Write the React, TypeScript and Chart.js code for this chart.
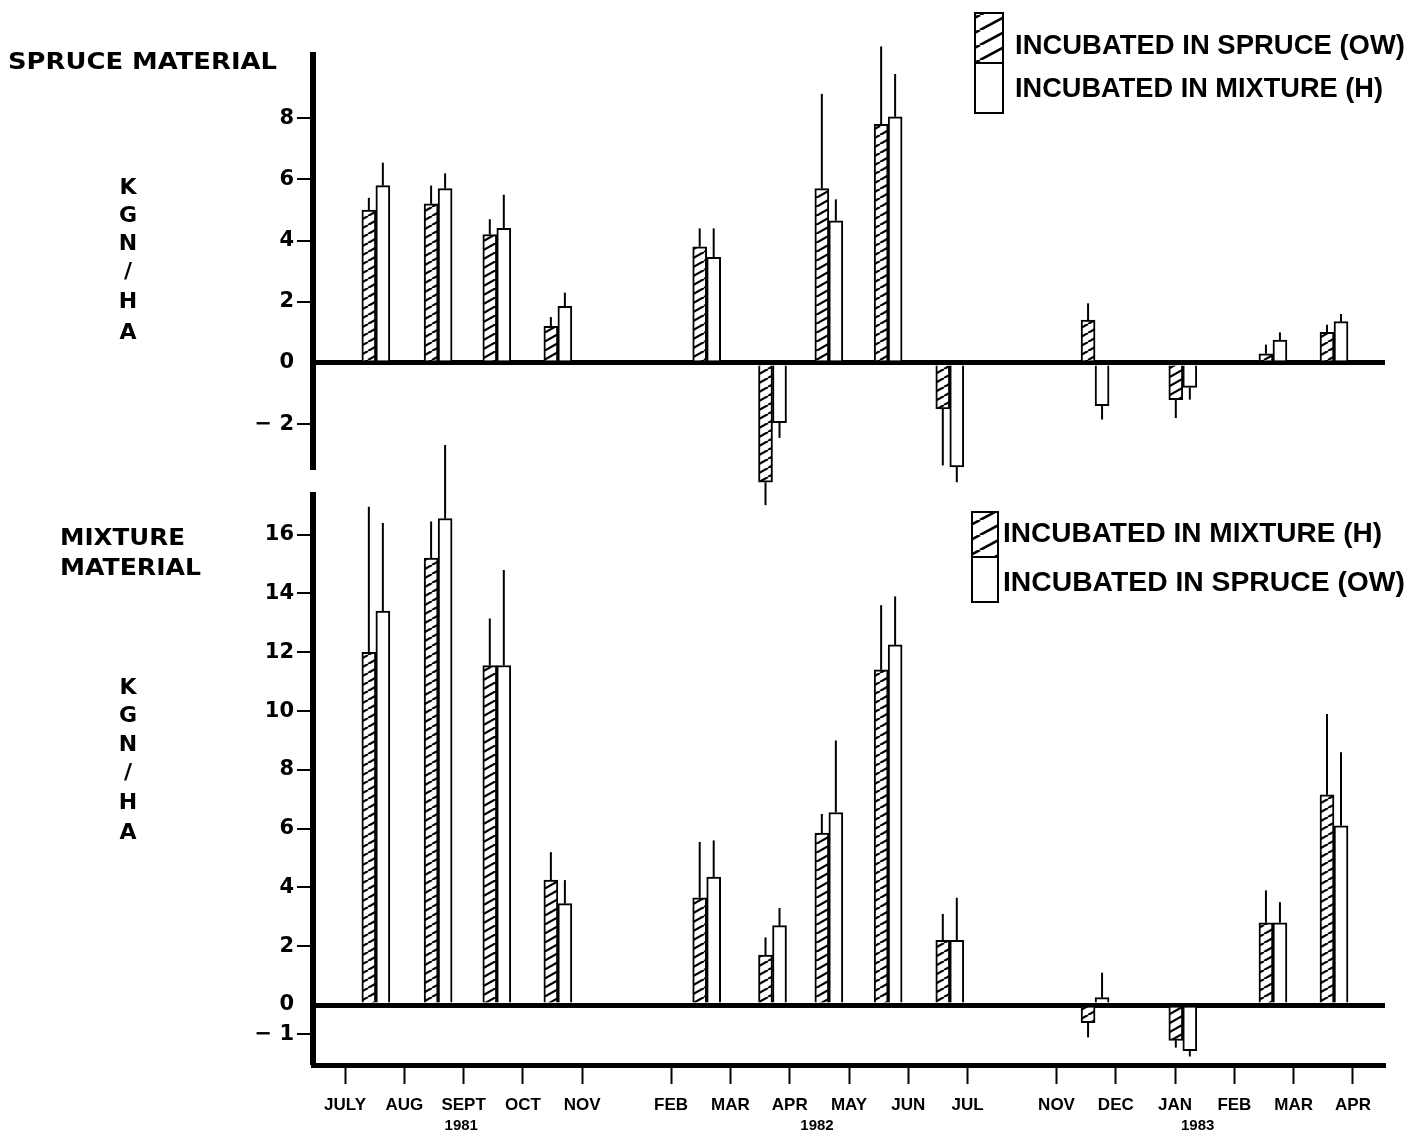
import React, { useEffect, useRef } from 'react';
import { Chart, registerables } from 'chart.js';

Chart.register(...registerables);

// Month axis: one unit per month, with the winter gaps compressed.
const monthTicks = [0, 1, 2, 3, 4, 5.5, 6.5, 7.5, 8.5, 9.5, 10.5, 12, 13, 14, 15, 16, 17];
const monthLabels = ['JULY', 'AUG', 'SEPT', 'OCT', 'NOV', 'FEB', 'MAR', 'APR', 'MAY', 'JUN', 'JUL', 'NOV', 'DEC', 'JAN', 'FEB', 'MAR', 'APR'];
const yearLabels = ['1981', '1982', '1983'];
const yearPos = [1.96, 7.96, 14.38];

// Sampling dates on the month axis.
const samplePos = [0.52, 1.57, 2.56, 3.59, 6.1, 7.21, 8.16, 9.16, 10.2, 12.65, 14.13, 15.65, 16.68];

// Spruce material (kg N/ha)
const spruceInSpruce = [5.0, 5.2, 4.2, 1.2, 3.8, -3.9, 5.7, 7.8, -1.5, 1.4, -1.2, 0.3, 1.0];
const spruceInSpruceErr = [0.4, 0.6, 0.5, 0.3, 0.6, 0.75, 3.1, 2.55, 1.85, 0.55, 0.6, 0.3, 0.25];
const spruceInMixture = [5.8, 5.7, 4.4, 1.85, 3.45, -1.95, 4.65, 8.05, -3.4, -1.4, -0.8, 0.75, 1.35];
const spruceInMixtureErr = [0.75, 0.5, 1.1, 0.45, 0.95, 0.5, 0.7, 1.4, 0.5, 0.45, 0.4, 0.25, 0.25];

// Mixture material (kg N/ha)
const mixtureInMixture = [12.0, 15.2, 11.55, 4.25, 3.65, 1.7, 5.85, 11.4, 2.2, -0.6, -1.2, 2.8, 7.15];
const mixtureInMixtureErr = [4.95, 1.25, 1.6, 0.95, 1.9, 0.6, 0.65, 2.2, 0.9, 0.5, 0.25, 1.1, 2.75];
const mixtureInSpruce = [13.4, 16.55, 11.55, 3.45, 4.35, 2.7, 6.55, 12.25, 2.2, 0.25, -1.55, 2.8, 6.1];
const mixtureInSpruceErr = [3.0, 2.5, 3.25, 0.8, 1.25, 0.6, 2.45, 1.65, 1.45, 0.85, 0.2, 0.7, 2.5];

const spruceTicks = [8, 6, 4, 2, 0, -2];
const mixtureTicks = [16, 14, 12, 10, 8, 6, 4, 2, 0, -1];

const X_MIN = -0.54;
const X_MAX = 17.54;
const PAGE_W = 1416;
const PAGE_H = 1143;
const AXIS_FONT = "'DejaVu Sans', sans-serif";
const TEXT_FONT = "'Liberation Sans', Arial, sans-serif";

function makeHatch(w: number, h: number, lw: number): CanvasPattern | string {
  const c = document.createElement('canvas');
  c.width = w;
  c.height = h;
  const g = c.getContext('2d');
  if (!g) return '#fff';
  g.fillStyle = '#fff';
  g.fillRect(0, 0, w, h);
  g.strokeStyle = '#000';
  g.lineWidth = lw;
  for (const dx of [-w, 0, w]) {
    g.beginPath();
    g.moveTo(dx, h);
    g.lineTo(dx + w, 0);
    g.stroke();
  }
  return g.createPattern(c, 'repeat') || '#fff';
}

function fitText(ctx: CanvasRenderingContext2D, text: string, x: number, y: number, width: number, font: string) {
  ctx.save();
  ctx.font = font;
  ctx.fillStyle = '#000';
  ctx.textBaseline = 'middle';
  ctx.textAlign = 'left';
  const w = ctx.measureText(text).width;
  ctx.translate(x, y);
  ctx.scale(width / w, 1);
  ctx.fillText(text, 0, 0);
  ctx.restore();
}

function centerText(ctx: CanvasRenderingContext2D, text: string, x: number, y: number, font: string) {
  ctx.save();
  ctx.font = font;
  ctx.fillStyle = '#000';
  ctx.textBaseline = 'middle';
  ctx.textAlign = 'center';
  ctx.fillText(text, x, y);
  ctx.restore();
}

const errorBarPlugin = {
  id: 'errorBars',
  afterDatasetsDraw(chart: any) {
    const ctx: CanvasRenderingContext2D = chart.ctx;
    const yScale = chart.scales.y;
    chart.data.datasets.forEach((ds: any, i: number) => {
      const meta = chart.getDatasetMeta(i);
      meta.data.forEach((el: any, j: number) => {
        const v = ds.data[j].y;
        const e = ds.errors[j];
        const end = yScale.getPixelForValue(v + (v >= 0 ? e : -e));
        ctx.save();
        ctx.strokeStyle = '#000';
        ctx.lineWidth = 2;
        ctx.beginPath();
        ctx.moveTo(el.x, el.y);
        ctx.lineTo(el.x, end);
        ctx.stroke();
        ctx.restore();
      });
    });
  },
};

type Annot = {
  offsetY: number;
  title: { text: string; x: number; y: number; w: number }[];
  unitY: number[];
  legendBox: { x: number; y: number; w: number; h: number };
  legend: { text: string; x: number; y: number; w: number }[];
  years: boolean;
};

function makeTextPlugin(a: Annot, legendHatch: CanvasPattern | string) {
  return {
    id: 'panelText',
    afterDraw(chart: any) {
      const ctx: CanvasRenderingContext2D = chart.ctx;
      const oy = a.offsetY;
      for (const t of a.title) {
        fitText(ctx, t.text, t.x, t.y - oy, t.w, `bold 23px ${AXIS_FONT}`);
      }
      const unit = ['K', 'G', 'N', '/', 'H', 'A'];
      unit.forEach((ch, i) => centerText(ctx, ch, 128, a.unitY[i] - oy, `bold 22px ${AXIS_FONT}`));

      const b = a.legendBox;
      const half = b.h / 2;
      ctx.save();
      ctx.fillStyle = legendHatch as any;
      ctx.fillRect(b.x, b.y - oy, b.w, half);
      ctx.strokeStyle = '#000';
      ctx.lineWidth = 2;
      ctx.strokeRect(b.x, b.y - oy, b.w, half);
      ctx.strokeRect(b.x, b.y - oy + half, b.w, half);
      ctx.restore();
      for (const t of a.legend) {
        fitText(ctx, t.text, t.x, t.y - oy, t.w, `bold 28px ${TEXT_FONT}`);
      }

      if (a.years) {
        const xs = chart.scales.x;
        const yy = chart.chartArea.bottom + 61;
        yearLabels.forEach((lab, i) => {
          centerText(ctx, lab, xs.getPixelForValue(yearPos[i]), yy, `bold 15px ${TEXT_FONT}`);
        });
      }
    },
  };
}

type Panel = {
  hatched: number[];
  hatchedErr: number[];
  open: number[];
  openErr: number[];
  labels: [string, string];
  yMin: number;
  yMax: number;
  yTicks: number[];
  showX: boolean;
  padTop: number;
  padBottom: number;
  annot: Annot;
};

function buildChart(canvas: HTMLCanvasElement, p: Panel) {
  const barHatch = makeHatch(16, 9, 2.2);
  const legendHatch = makeHatch(28, 15, 2.6);
  const yLabel = (v: number) => (v < 0 ? `\u2212 ${Math.abs(v)}` : `${v}`);
  return new Chart(canvas, {
    type: 'bar',
    data: {
      datasets: [
        {
          label: p.labels[0],
          data: samplePos.map((x, i) => ({ x, y: p.hatched[i] })),
          errors: p.hatchedErr,
          backgroundColor: barHatch,
          borderColor: '#000',
          borderWidth: 2,
        } as any,
        {
          label: p.labels[1],
          data: samplePos.map((x, i) => ({ x, y: p.open[i] })),
          errors: p.openErr,
          backgroundColor: '#fff',
          borderColor: '#000',
          borderWidth: 2,
        } as any,
      ],
    },
    options: {
      responsive: false,
      animation: false,
      layout: { padding: { top: p.padTop, bottom: p.padBottom, left: 0, right: 31 } },
      plugins: { legend: { display: false }, tooltip: { enabled: false } },
      datasets: { bar: { barThickness: 14, grouped: true, clip: false } },
      scales: {
        x: {
          type: 'linear',
          min: X_MIN,
          max: X_MAX,
          offset: false,
          display: p.showX,
          afterBuildTicks: (s: any) => {
            s.ticks = monthTicks.map((v) => ({ value: v }));
          },
          afterFit: (s: any) => {
            s.height = p.showX ? 78 : 0;
          },
          grid: {
            offset: false,
            drawOnChartArea: false,
            drawTicks: true,
            tickLength: 19,
            tickWidth: 2,
            tickColor: '#000',
          },
          border: { display: true, color: '#000', width: 5 },
          ticks: {
            autoSkip: false,
            maxRotation: 0,
            padding: 11,
            color: '#000',
            font: { family: TEXT_FONT, size: 17, weight: 'bold' },
            callback: (_v: any, i: number) => monthLabels[i],
          },
        },
        y: {
          type: 'linear',
          min: p.yMin,
          max: p.yMax,
          afterBuildTicks: (s: any) => {
            s.ticks = p.yTicks.map((v) => ({ value: v }));
          },
          afterFit: (s: any) => {
            s.width = 313;
          },
          grid: {
            drawOnChartArea: true,
            drawTicks: true,
            color: (c: any) => (c.tick && c.tick.value === 0 ? '#000' : 'rgba(0,0,0,0)'),
            lineWidth: (c: any) => (c.tick && c.tick.value === 0 ? 5 : 0),
            tickLength: 16,
            tickWidth: 2,
            tickColor: (c: any) => (c.tick && c.tick.value === 0 ? 'rgba(0,0,0,0)' : '#000'),
          },
          border: { display: true, color: '#000', width: 6 },
          ticks: {
            padding: 3,
            color: '#000',
            font: { family: AXIS_FONT, size: 21, weight: 'bold' },
            callback: (v: any) => yLabel(Number(v)),
          },
        },
      },
    } as any,
    plugins: [errorBarPlugin, makeTextPlugin(p.annot, legendHatch)],
  });
}

const TOP_H = 520;
const BOT_TOP = 430;
const BOT_H = PAGE_H - BOT_TOP;

const sprucePanel: Panel = {
  hatched: spruceInSpruce,
  hatchedErr: spruceInSpruceErr,
  open: spruceInMixture,
  openErr: spruceInMixtureErr,
  labels: ['INCUBATED IN SPRUCE (OW)', 'INCUBATED IN MIXTURE (H)'],
  yMin: -3.5,
  yMax: 10.07,
  yTicks: spruceTicks,
  showX: false,
  padTop: 55,
  padBottom: TOP_H - 470,
  annot: {
    offsetY: 0,
    title: [{ text: 'SPRUCE MATERIAL', x: 8, y: 63, w: 269 }],
    unitY: [188, 216, 244, 272, 302, 333],
    legendBox: { x: 975, y: 13, w: 28, h: 100 },
    legend: [
      { text: 'INCUBATED IN SPRUCE (OW)', x: 1015, y: 46, w: 390 },
      { text: 'INCUBATED IN MIXTURE (H)', x: 1015, y: 89, w: 368 },
    ],
    years: false,
  },
};

const mixturePanel: Panel = {
  hatched: mixtureInMixture,
  hatchedErr: mixtureInMixtureErr,
  open: mixtureInSpruce,
  openErr: mixtureInSpruceErr,
  labels: ['INCUBATED IN MIXTURE (H)', 'INCUBATED IN SPRUCE (OW)'],
  yMin: -2.04,
  yMax: 17.35,
  yTicks: mixtureTicks,
  showX: true,
  padTop: 495 - BOT_TOP,
  padBottom: 0,
  annot: {
    offsetY: BOT_TOP,
    title: [
      { text: 'MIXTURE', x: 60, y: 539, w: 125 },
      { text: 'MATERIAL', x: 60, y: 569, w: 141 },
    ],
    unitY: [688, 716, 745, 773, 803, 833],
    legendBox: { x: 972, y: 512, w: 26, h: 90 },
    legend: [
      { text: 'INCUBATED IN MIXTURE (H)', x: 1003, y: 534, w: 379 },
      { text: 'INCUBATED IN SPRUCE (OW)', x: 1003, y: 583, w: 402 },
    ],
    years: true,
  },
};

export default function App() {
  const topRef = useRef<HTMLCanvasElement | null>(null);
  const botRef = useRef<HTMLCanvasElement | null>(null);

  useEffect(() => {
    document.body.style.margin = '0';
    document.body.style.overflow = 'hidden';
    const charts: Chart[] = [];
    if (topRef.current) charts.push(buildChart(topRef.current, sprucePanel));
    if (botRef.current) charts.push(buildChart(botRef.current, mixturePanel));
    return () => charts.forEach((c) => c.destroy());
  }, []);

  return (
    <div style={{ position: 'relative', width: PAGE_W, height: PAGE_H, background: '#fff' }}>
      <canvas
        ref={topRef}
        width={PAGE_W}
        height={TOP_H}
        style={{ position: 'absolute', left: 0, top: 0, width: PAGE_W, height: TOP_H }}
      />
      <canvas
        ref={botRef}
        width={PAGE_W}
        height={BOT_H}
        style={{ position: 'absolute', left: 0, top: BOT_TOP, width: PAGE_W, height: BOT_H }}
      />
    </div>
  );
}
